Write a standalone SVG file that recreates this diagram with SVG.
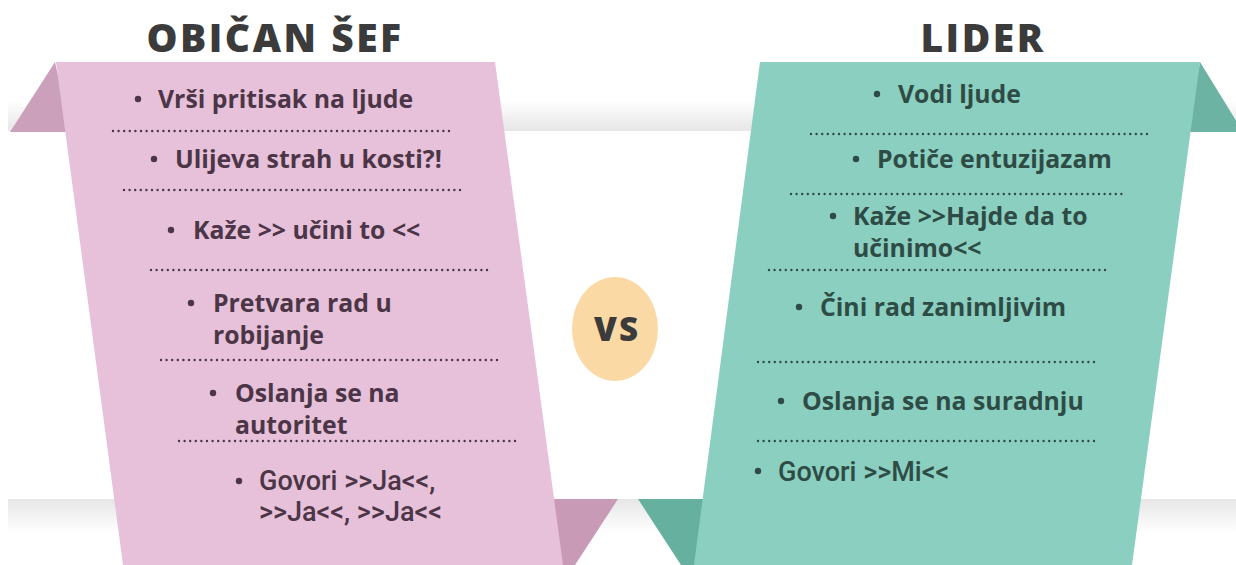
<svg xmlns="http://www.w3.org/2000/svg" width="1236" height="565" viewBox="0 0 1236 565">
<defs>
<linearGradient id="shTop" x1="0" y1="0" x2="0" y2="1">
<stop offset="0" stop-color="#ffffff"/>
<stop offset="1" stop-color="#e6e6e6"/>
</linearGradient>
<linearGradient id="shBot" x1="0" y1="0" x2="0" y2="1">
<stop offset="0" stop-color="#e6e6e6"/>
<stop offset="1" stop-color="#ffffff"/>
</linearGradient>
<style>
.title{font-family:"Open Sans","Liberation Sans",sans-serif;font-weight:800;font-size:39px;fill:#3b3b3b;letter-spacing:2.5px;text-anchor:middle}
.pk{font-family:"Open Sans","Liberation Sans",sans-serif;font-weight:700;font-size:24.8px;fill:#4b3546}
.tl{font-family:"Open Sans","Liberation Sans",sans-serif;font-weight:700;font-size:24.8px;fill:#2e4c45}
.cond{font-family:"Roboto","Liberation Sans",sans-serif;font-weight:500;font-size:27px}
.dotp{stroke:#4b3546;stroke-width:2.4;stroke-dasharray:0 5.6;stroke-linecap:round;fill:none}
.dott{stroke:#2e4c45;stroke-width:2.4;stroke-dasharray:0 5.6;stroke-linecap:round;fill:none}
</style>
</defs>
<rect width="1236" height="565" fill="#ffffff"/>
<g id="band">
<rect x="8" y="100" width="1228" height="31" fill="url(#shTop)"/>
<rect x="8" y="499" width="1228" height="34" fill="url(#shBot)"/>
</g>
<g id="pink">
<polygon points="55,62 10,132 70,132" fill="#caa0bb"/>
<polygon points="540,499 618,499 562,585" fill="#c99ab6"/>
<polygon points="56,62 495,62 563,565 123,565" fill="#e6c1d9"/>
</g>
<g id="teal">
<polygon points="1200,62 1243,132 1188,132" fill="#6db3a3"/>
<polygon points="638,499 712,499 694,585" fill="#66b0a0"/>
<polygon points="760,62 1200,62 1132,565 694,565" fill="#8bcfc0"/>
</g>
<g id="titles">
<text class="title" x="275" y="52">OBIČAN ŠEF</text>
<text class="title" x="983" y="52">LIDER</text>
</g>
<g id="vs">
<ellipse cx="615" cy="329" rx="43" ry="52" fill="#fbd9a5"/>
<text x="617" y="341" font-family="Open Sans, Liberation Sans, sans-serif" font-weight="800" font-size="33" letter-spacing="2" fill="#3b3b3b" text-anchor="middle">VS</text>
</g>
<g id="left-items" class="pk">
<circle cx="138" cy="99" r="3.2"/>
<text class="pk" x="158" y="108">Vrši pritisak na ljude</text>
<circle cx="154" cy="159" r="3.2"/>
<text class="pk" x="175" y="168">Ulijeva strah u kosti?!</text>
<circle cx="171" cy="230" r="3.2"/>
<text class="pk" x="193" y="239">Kaže &gt;&gt; učini to &lt;&lt;</text>
<circle cx="191" cy="303" r="3.2"/>
<text class="pk" x="213" y="312">Pretvara rad u<tspan x="213" dy="32">robijanje</tspan></text>
<circle cx="213" cy="393" r="3.2"/>
<text class="pk" x="235" y="402">Oslanja se na<tspan x="235" dy="32">autoritet</tspan></text>
<circle cx="239" cy="481" r="3.2"/>
<text class="pk cond" x="259" y="490">Govori &gt;&gt;Ja&lt;&lt;,<tspan x="259" dy="31">&gt;&gt;Ja&lt;&lt;, &gt;&gt;Ja&lt;&lt;</tspan></text>
</g>
<g id="right-items" class="tl">
<circle cx="877" cy="94" r="3.2"/>
<text class="tl" x="898" y="103">Vodi ljude</text>
<circle cx="856" cy="159" r="3.2"/>
<text class="tl" x="877" y="168">Potiče entuzijazam</text>
<circle cx="833" cy="216" r="3.2"/>
<text class="tl" x="853" y="225">Kaže &gt;&gt;Hajde da to<tspan x="853" dy="32">učinimo&lt;&lt;</tspan></text>
<circle cx="799" cy="307" r="3.2"/>
<text class="tl" x="820" y="316">Čini rad zanimljivim</text>
<circle cx="781" cy="401" r="3.2"/>
<text class="tl" x="802" y="410">Oslanja se na suradnju</text>
<circle cx="758" cy="471" r="3.2"/>
<text class="tl cond" x="778" y="481">Govori &gt;&gt;Mi&lt;&lt;</text>
</g>
<g id="connectors">
<line class="dotp" x1="113" y1="131" x2="452" y2="131"/>
<line class="dotp" x1="124" y1="190" x2="463" y2="190"/>
<line class="dotp" x1="151" y1="270" x2="488" y2="270"/>
<line class="dotp" x1="161" y1="360" x2="499" y2="360"/>
<line class="dotp" x1="179" y1="441" x2="516" y2="441"/>
<line class="dott" x1="811" y1="134" x2="1149" y2="134"/>
<line class="dott" x1="791" y1="194" x2="1127" y2="194"/>
<line class="dott" x1="769" y1="270" x2="1109" y2="270"/>
<line class="dott" x1="758" y1="362" x2="1096" y2="362"/>
<line class="dott" x1="758" y1="441" x2="1096" y2="441"/>
</g>
</svg>
